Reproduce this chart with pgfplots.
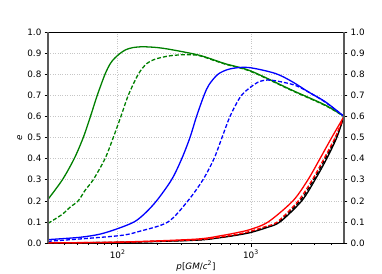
\documentclass[border=0pt]{standalone}
\usepackage{fontspec}
\setmainfont{DejaVu Sans}
\usepackage{pgfplots}
\pgfplotsset{compat=1.18}
\definecolor{mplgreen}{rgb}{0,0.5,0}
\begin{document}
\fontsize{8.8}{10.5}\selectfont
\begin{tikzpicture}
\begin{axis}[
  at={(0,0)}, anchor=south west,
  scale only axis, width=296pt, height=211pt,
  xmode=log, xmin=30, xmax=5000, ymin=0, ymax=1,
  ytick={0,0.1,0.2,0.3,0.4,0.5,0.6,0.7,0.8,0.9,1},
  yticklabel style={/pgf/number format/fixed,/pgf/number format/fixed zerofill,/pgf/number format/precision=1,/pgf/number format/assume math mode=true},
  tick align=outside, major tick length=3.5pt, minor tick length=2pt,
  tick style={black, line width=0.6pt},
  xtick={100,1000}, xticklabels={10\textsuperscript{2},10\textsuperscript{3}},
  minor xtick={40,50,60,70,80,90,200,300,400,500,600,700,800,900,2000,3000,4000},
  xtick pos=left, ytick pos=both, yticklabel pos=left,
  grid=major, major grid style={dotted, gray!45, line width=0.6pt},
  axis line style={black, line width=0.6pt},
  xlabel={\textit{p}[\textit{GM}/\textit{c}\textsuperscript{2}]},
  ylabel={\textit{e}},
  xlabel style={yshift=3pt},
  ylabel style={yshift=-1pt},
]
% green solid
\addplot[mplgreen, line width=1.3pt, smooth] coordinates {(30,0.207)(38.5,0.30)(47.2,0.40)(55.2,0.50)(62.5,0.60)(70.3,0.70)(80.4,0.80)(88,0.85)(95,0.876)(104,0.898)(115,0.916)(130,0.926)(155,0.93)(200,0.926)(260,0.915)(415,0.889)(639,0.85)(1000,0.815)(2024,0.725)(3605,0.654)(5000,0.6)};
% green dashed
\addplot[mplgreen, line width=1.3pt, smooth, dash pattern=on 4pt off 2pt] coordinates {(30,0.093)(38.2,0.135)(44,0.17)(50.6,0.20)(57,0.25)(65.6,0.30)(80.4,0.40)(92.7,0.50)(105.8,0.60)(120.2,0.70)(142.9,0.80)(165,0.85)(190.7,0.871)(240,0.886)(300,0.892)(349,0.892)(415,0.887)(639,0.848)(1000,0.813)(2024,0.723)(3605,0.652)(5000,0.6)};
% blue solid
\addplot[blue, line width=1.3pt, smooth] coordinates {(30,0.016)(52,0.027)(73.6,0.042)(100,0.068)(133,0.10)(160,0.14)(196,0.20)(254,0.30)(303,0.40)(349,0.50)(391,0.60)(445,0.70)(485,0.75)(567,0.80)(697,0.825)(952,0.832)(1518,0.804)(2036,0.765)(2686,0.717)(3605,0.67)(5000,0.6)};
% blue dashed
\addplot[blue, line width=1.3pt, smooth, dash pattern=on 4pt off 2pt] coordinates {(30,0.008)(100,0.034)(147,0.056)(239,0.10)(337,0.20)(437,0.30)(529,0.40)(607,0.50)(697,0.60)(810,0.68)(903,0.717)(1130,0.762)(1393,0.772)(2036,0.752)(2546,0.725)(3605,0.668)(5000,0.6)};
% black solid
\addplot[black, line width=1.3pt, smooth] coordinates {(30,0.0005)(100,0.003)(381,0.013)(600,0.026)(800,0.038)(1000,0.05)(1300,0.072)(1656,0.10)(2410,0.20)(3034,0.30)(3710,0.40)(4415,0.50)(5000,0.60)};
% black dashed
\addplot[black, line width=1.3pt, smooth, dash pattern=on 4pt off 2pt] coordinates {(30,0.0006)(100,0.003)(381,0.014)(600,0.028)(800,0.04)(1000,0.053)(1300,0.076)(1620,0.10)(2340,0.20)(2960,0.30)(3620,0.40)(4350,0.50)(5000,0.60)};
% red solid
\addplot[red, line width=1.3pt, smooth] coordinates {(30,0.001)(100,0.004)(381,0.018)(600,0.035)(800,0.05)(1000,0.065)(1350,0.10)(2070,0.20)(2683,0.30)(3303,0.40)(4045,0.50)(5000,0.60)};
% red dashed
\addplot[red, line width=1.3pt, smooth, dash pattern=on 4pt off 2pt] coordinates {(30,0.0008)(100,0.0035)(381,0.015)(600,0.029)(800,0.042)(1000,0.056)(1300,0.079)(1581,0.10)(2271,0.20)(2893,0.30)(3539,0.40)(4288,0.50)(5000,0.60)};
\end{axis}
\begin{axis}[
  at={(0,0)}, anchor=south west,
  scale only axis, width=296pt, height=211pt,
  xmode=log, xmin=30, xmax=5000, ymin=0, ymax=1,
  ytick={0,0.1,0.2,0.3,0.4,0.5,0.6,0.7,0.8,0.9,1},
  yticklabel style={/pgf/number format/fixed,/pgf/number format/fixed zerofill,/pgf/number format/precision=1,/pgf/number format/assume math mode=true},
  tick align=outside, major tick length=3.5pt,
  tick style={black, line width=0.6pt},
  hide x axis, axis y line*=right,
  y axis line style={-, gray!70!black, line width=1.2pt},
  yticklabel pos=right,
]
\addplot[draw=none] coordinates {(100,0.5)};
\end{axis}
\begin{axis}[
  at={(0,0)}, anchor=south west,
  scale only axis, width=296pt, height=211pt,
  xmode=log, xmin=30, xmax=5000, ymin=0, ymax=1,
  hide x axis, axis y line*=left,
  y axis line style={-, gray!70!black, line width=1.2pt},
  ytick=\empty,
]
\addplot[draw=none] coordinates {(100,0.5)};
\end{axis}
\pgfresetboundingbox
\path[use as bounding box] (-48pt,-30pt) rectangle (334pt,243pt);
\end{tikzpicture}
\end{document}
